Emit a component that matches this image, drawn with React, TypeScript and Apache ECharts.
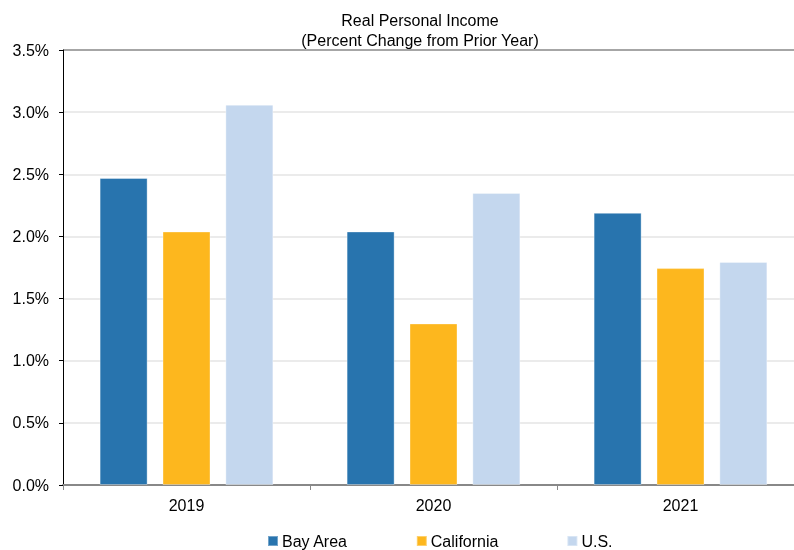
import React, { useEffect, useRef } from "react";
import * as echarts from "echarts";

const categories = ["2019", "2020", "2021"];
const bayArea = [2.47, 2.04, 2.19];
const california = [2.04, 1.30, 1.745];
const us = [3.06, 2.35, 1.795];
const seriesNames = ["Bay Area", "California", "U.S."];
const colors = ["#2874AE", "#FDB71E", "#C4D7EE"];

export default function App() {
  const ref = useRef<HTMLDivElement>(null);
  useEffect(() => {
    const chart = echarts.init(ref.current!, null, { renderer: "svg" });
    const font = "Liberation Sans, Arial, sans-serif";
    const mk = (name: string, data: number[], i: number) => ({
      name,
      type: "bar",
      data,
      barWidth: 48,
      barGap: "31%",
      itemStyle: { color: colors[i], borderColor: "rgba(255,255,255,0.35)", borderWidth: 1 },
    });
    chart.setOption({
      animation: false,
      textStyle: { fontFamily: font },
      title: {
        text: "Real Personal Income\n(Percent Change from Prior Year)",
        left: 415,
        top: 5,
        textAlign: "center",
        textStyle: { fontFamily: font, fontSize: 16, fontWeight: "normal", color: "#000", lineHeight: 20 },
      },
      legend: {
        top: 528,
        left: 262,
        itemWidth: 10,
        itemHeight: 10,
        itemGap: 68,
        icon: "rect",
        textStyle: { fontFamily: font, fontSize: 16, color: "#000", padding: [0, 0, 0, -1] },
        data: seriesNames,
      },
      grid: { left: 63, right: 0, top: 50, bottom: 65 },
      xAxis: {
        type: "category",
        data: categories,
        axisLine: { show: true, lineStyle: { color: "#888", width: 2 } },
        axisTick: { show: true, length: 5, lineStyle: { color: "#888" } },
        axisLabel: { fontFamily: font, fontSize: 16, color: "#000", margin: 12 },
      },
      yAxis: {
        type: "value",
        min: 0,
        max: 3.5,
        interval: 0.5,
        axisLine: { show: true, lineStyle: { color: "#000", width: 1 } },
        axisTick: { show: true, length: 4, lineStyle: { color: "#000" } },
        axisLabel: {
          fontFamily: font,
          fontSize: 16,
          color: "#000",
          margin: 14,
          formatter: (v: number) => v.toFixed(1) + "%",
        },
        splitLine: {
          show: true,
          lineStyle: {
            color: ["#e4e4e4", "#e4e4e4", "#e4e4e4", "#e4e4e4", "#e4e4e4", "#e4e4e4", "#e4e4e4", "#888"],
            width: 1.5,
          },
        },
      },
      series: [mk(seriesNames[0], bayArea, 0), mk(seriesNames[1], california, 1), mk(seriesNames[2], us, 2)],
    });
    return () => chart.dispose();
  }, []);
  return (
    <div style={{ position: "fixed", left: 0, top: 0, width: 794, height: 550, overflow: "hidden" }}>
      <div ref={ref} style={{ width: 804, height: 550 }} />
    </div>
  );
}
